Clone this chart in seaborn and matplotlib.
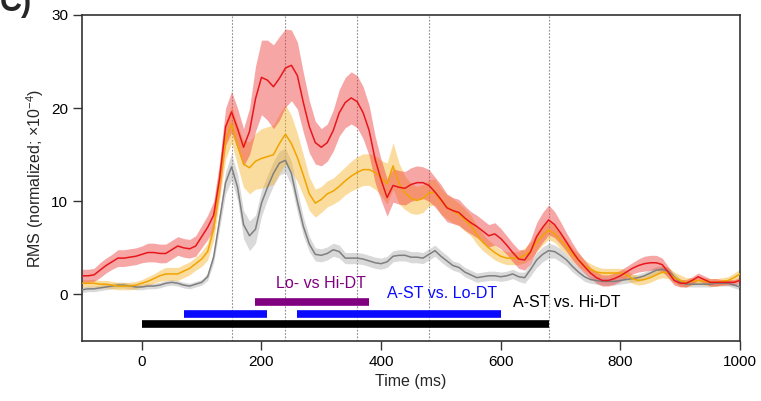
import numpy as np
import pandas as pd
import matplotlib
matplotlib.use("Agg")
import matplotlib.pyplot as plt
import seaborn as sns

# ---------------- data ----------------
time_ms = list(range(-100, 1001, 10))

hi_dt = [2.0, 2.0, 2.1, 2.6, 3.1, 3.5, 3.9, 3.9, 4.0, 4.1,
         4.3, 4.5, 4.5, 4.4, 4.4, 4.8, 5.2, 5.0, 4.9, 5.2,
         6.2, 7.2, 8.5, 12.5, 18.0, 19.6, 17.8, 15.8, 17.5, 21.0,
         23.3, 23.0, 22.3, 23.2, 24.3, 24.6, 23.5, 20.6, 18.0, 16.3,
         15.8, 16.3, 17.6, 19.5, 20.6, 21.1, 20.7, 19.5, 17.6, 14.5,
         12.3, 10.4, 11.7, 11.5, 11.4, 11.8, 12.0, 12.0, 11.7, 11.0,
         10.2, 9.3, 9.0, 8.8, 8.2, 7.7, 7.3, 6.8, 6.3, 6.5,
         6.0, 5.3, 4.5, 3.8, 3.7, 4.6, 6.2, 7.2, 8.0, 7.5,
         6.6, 5.6, 4.6, 3.7, 3.0, 2.3, 1.8, 1.5, 1.5, 1.7,
         2.0, 2.4, 2.8, 3.1, 3.3, 3.4, 3.4, 3.2, 2.4, 1.5,
         1.2, 1.2, 1.5, 1.9, 1.6, 1.3, 1.3, 1.3, 1.3, 1.3,
         1.5]

lo_dt = [1.2, 1.2, 1.2, 1.1, 1.1, 1.0, 0.9, 0.9, 0.9, 1.0,
         1.2, 1.4, 1.7, 2.0, 2.2, 2.2, 2.2, 2.5, 2.8, 3.3,
         3.8, 4.6, 7.0, 11.8, 16.5, 18.3, 16.0, 14.0, 13.6, 14.3,
         14.6, 14.8, 15.0, 16.2, 17.2, 16.2, 14.7, 12.8, 10.8, 9.8,
         10.2, 10.8, 11.1, 11.6, 12.2, 12.7, 13.1, 13.4, 13.4, 13.1,
         12.5, 11.9, 13.8, 11.9, 10.9, 10.3, 10.1, 10.3, 10.9, 11.0,
         10.0, 9.4, 9.0, 8.6, 8.0, 7.4, 6.4, 5.6, 5.0, 4.5,
         4.1, 3.9, 3.9, 3.9, 4.2, 4.7, 5.6, 6.3, 6.9, 6.5,
         5.8, 5.1, 4.3, 3.7, 3.1, 2.7, 2.4, 2.3, 2.3, 2.3,
         2.3, 2.1, 1.7, 1.5, 1.6, 1.8, 2.1, 2.4, 2.3, 1.8,
         1.5, 1.3, 1.4, 1.5, 1.4, 1.3, 1.3, 1.4, 1.5, 1.8,
         2.2]

a_st = [0.5, 0.6, 0.6, 0.7, 0.8, 0.9, 1.0, 1.0, 0.9, 0.8,
        0.8, 0.9, 0.9, 1.0, 1.2, 1.3, 1.2, 1.0, 0.9, 1.1,
        1.3, 1.9, 4.0, 8.0, 12.0, 13.7, 11.5, 7.5, 6.3, 7.0,
        9.8, 11.5, 13.0, 14.1, 14.4, 13.0, 10.0, 7.3, 5.4, 4.3,
        4.2, 4.4, 4.8, 4.6, 3.9, 3.9, 3.9, 3.8, 3.6, 3.4,
        3.3, 3.5, 4.1, 4.2, 4.2, 4.0, 4.0, 3.9, 4.3, 4.7,
        4.1, 3.6, 3.1, 2.9, 2.4, 2.1, 1.8, 1.9, 2.0, 2.0,
        1.9, 2.0, 2.2, 1.9, 1.8, 2.7, 3.7, 4.3, 4.7, 4.6,
        4.2, 3.7, 3.0, 2.4, 1.9, 1.6, 1.5, 1.4, 1.4, 1.4,
        1.5, 1.6, 1.7, 1.8, 2.0, 2.3, 2.6, 2.7, 2.5, 1.9,
        1.3, 1.1, 1.1, 1.1, 1.1, 1.1, 1.2, 1.2, 1.2, 1.0,
        0.8]

hi_dt_sem = [0.7, 0.7, 0.7, 0.8, 0.8, 0.8, 0.9, 0.9, 0.9, 0.9,
             0.9, 1.0, 1.0, 1.0, 1.0, 1.0, 1.0, 1.0, 1.0, 1.1,
             1.2, 1.3, 1.5, 1.7, 2.0, 2.2, 2.2, 2.0, 2.5, 3.5,
             4.0, 4.3, 4.5, 4.5, 4.2, 3.8, 3.6, 3.2, 2.8, 2.3,
             2.0, 2.0, 2.2, 2.5, 2.7, 2.8, 2.8, 2.8, 2.7, 2.5,
             2.2, 2.0, 1.8, 1.8, 1.8, 1.8, 1.8, 1.7, 1.7, 1.6,
             1.6, 1.5, 1.4, 1.4, 1.3, 1.2, 1.2, 1.2, 1.2, 1.2,
             1.1, 1.0, 1.0, 1.0, 1.1, 1.3, 1.5, 1.6, 1.6, 1.4,
             1.2, 1.0, 0.9, 0.8, 0.7, 0.6, 0.6, 0.6, 0.6, 0.6,
             0.6, 0.6, 0.6, 0.7, 0.8, 0.8, 0.8, 0.7, 0.6, 0.5,
             0.4, 0.4, 0.4, 0.4, 0.4, 0.4, 0.4, 0.3, 0.3, 0.3,
             0.3]

lo_dt_sem = [0.4, 0.4, 0.4, 0.4, 0.4, 0.4, 0.4, 0.4, 0.4, 0.4,
             0.4, 0.5, 0.5, 0.6, 0.7, 0.7, 0.7, 0.7, 0.7, 0.7,
             0.8, 0.9, 1.2, 1.6, 2.0, 2.0, 2.2, 2.5, 2.8, 3.0,
             3.2, 3.2, 3.2, 3.2, 3.2, 3.0, 2.6, 2.2, 1.8, 1.5,
             1.4, 1.4, 1.4, 1.5, 1.5, 1.6, 1.7, 1.7, 1.7, 1.8,
             1.9, 2.2, 2.5, 2.2, 1.8, 1.6, 1.5, 1.5, 1.4, 1.4,
             1.4, 1.3, 1.3, 1.2, 1.2, 1.1, 1.0, 0.9, 0.8, 0.8,
             0.7, 0.7, 0.7, 0.7, 0.8, 0.9, 1.0, 1.0, 1.0, 0.9,
             0.9, 0.8, 0.7, 0.7, 0.6, 0.6, 0.6, 0.5, 0.5, 0.5,
             0.5, 0.5, 0.5, 0.5, 0.5, 0.5, 0.5, 0.6, 0.6, 0.6,
             0.6, 0.5, 0.4, 0.4, 0.4, 0.4, 0.4, 0.4, 0.4, 0.5,
             0.5]

a_st_sem = [0.3, 0.3, 0.3, 0.3, 0.3, 0.3, 0.3, 0.3, 0.3, 0.3,
            0.3, 0.3, 0.3, 0.3, 0.3, 0.3, 0.3, 0.3, 0.3, 0.3,
            0.3, 0.4, 0.6, 0.9, 1.2, 1.4, 1.4, 1.5, 1.6, 1.5,
            1.4, 1.3, 1.3, 1.3, 1.3, 1.3, 1.2, 1.0, 0.8, 0.7,
            0.7, 0.7, 0.7, 0.7, 0.6, 0.6, 0.6, 0.6, 0.6, 0.6,
            0.6, 0.6, 0.6, 0.6, 0.6, 0.6, 0.6, 0.6, 0.6, 0.6,
            0.6, 0.6, 0.5, 0.5, 0.5, 0.5, 0.5, 0.5, 0.5, 0.5,
            0.5, 0.5, 0.5, 0.5, 0.6, 0.7, 0.8, 0.8, 0.8, 0.7,
            0.7, 0.6, 0.6, 0.5, 0.5, 0.4, 0.4, 0.4, 0.4, 0.4,
            0.4, 0.4, 0.4, 0.4, 0.4, 0.4, 0.4, 0.4, 0.4, 0.4,
            0.4, 0.3, 0.3, 0.3, 0.3, 0.3, 0.3, 0.3, 0.3, 0.3,
            0.3]

conditions = ["A-ST", "Lo-DT", "Hi-DT"]
vline_times = [150, 240, 360, 480, 680]

sig_labels = ["Lo- vs Hi-DT", "A-ST vs. Lo-DT", "A-ST vs. Hi-DT"]
sig_segments = [[(190, 380)], [(70, 210), (260, 600)], [(0, 680)]]
sig_levels = [-0.8, -2.05, -3.2]
label_pos = [(224, 1.18), (410, 0.1), (620, -0.86)]

# ---------------- style ----------------
sns.set_style("ticks")
plt.rcParams['font.family'] = ['Liberation Sans', 'DejaVu Sans']
plt.rcParams['mathtext.fontset'] = 'custom'
plt.rcParams['mathtext.rm'] = 'Liberation Sans'
plt.rcParams['mathtext.it'] = 'Liberation Sans:italic'
plt.rcParams['mathtext.bf'] = 'Liberation Sans:bold'

line_colors = {"A-ST": "#7f7f7f", "Lo-DT": "#f0a400", "Hi-DT": "#e8161b"}
band_colors = {"A-ST": "#a0a0a0", "Lo-DT": "#f7b32b", "Hi-DT": "#ef3b3b"}
band_alpha = {"A-ST": 0.4, "Lo-DT": 0.45, "Hi-DT": 0.45}
sig_colors = ["#800080", "#0a0aff", "#000000"]

means = {"A-ST": a_st, "Lo-DT": lo_dt, "Hi-DT": hi_dt}
sems = {"A-ST": a_st_sem, "Lo-DT": lo_dt_sem, "Hi-DT": hi_dt_sem}

df = pd.concat([pd.DataFrame({"time": time_ms, "rms": means[c], "sem": sems[c], "cond": c})
                for c in conditions], ignore_index=True)

fig = plt.figure(figsize=(7.61, 4.01), dpi=100)
ax = fig.add_axes([0.1078, 0.1496, 0.9724 - 0.1078, 0.9626 - 0.1496])

for c in conditions:
    sub = df[df["cond"] == c]
    ax.fill_between(sub["time"], sub["rms"] - sub["sem"], sub["rms"] + sub["sem"],
                    color=band_colors[c], alpha=band_alpha[c], linewidth=0, zorder=1)

sns.lineplot(data=df, x="time", y="rms", hue="cond", hue_order=conditions,
             palette=line_colors, linewidth=1.1, legend=False, ax=ax, zorder=3)

for t in vline_times:
    ax.axvline(t, color="#8c8c8c", linestyle=(0, (1.5, 1.5)), linewidth=0.8, zorder=0)

for segs, lvl, col in zip(sig_segments, sig_levels, sig_colors):
    for (s, e) in segs:
        ax.hlines(lvl, s, e, color=col, linewidth=5.5, zorder=4)

for lab, (tx, ty), col in zip(sig_labels, label_pos, sig_colors):
    ax.text(tx, ty, lab, color=col, fontsize=11.5, ha="left", va="center", zorder=5)

ax.set_xlim(-100, 1000)
ax.set_ylim(-5, 30)
ax.set_xticks([0, 200, 400, 600, 800, 1000])
ax.set_yticks([0, 10, 20, 30])
ax.set_xlabel("Time (ms)", fontsize=11.5)
ax.set_ylabel("RMS (normalized; \u00d710$^{-4}$)", fontsize=11.5)
ax.tick_params(axis="both", labelsize=11, length=6.5, width=1.0, colors="#333333",
               labelcolor="black", direction="out")
for sp in ax.spines.values():
    sp.set_visible(True)
    sp.set_linewidth(1.2)
    sp.set_color("#333333")

fig.text(0.0, 0.9726, "C)", fontsize=22, fontweight="bold", ha="left", va="baseline")

fig.savefig("out.png", dpi=100)
